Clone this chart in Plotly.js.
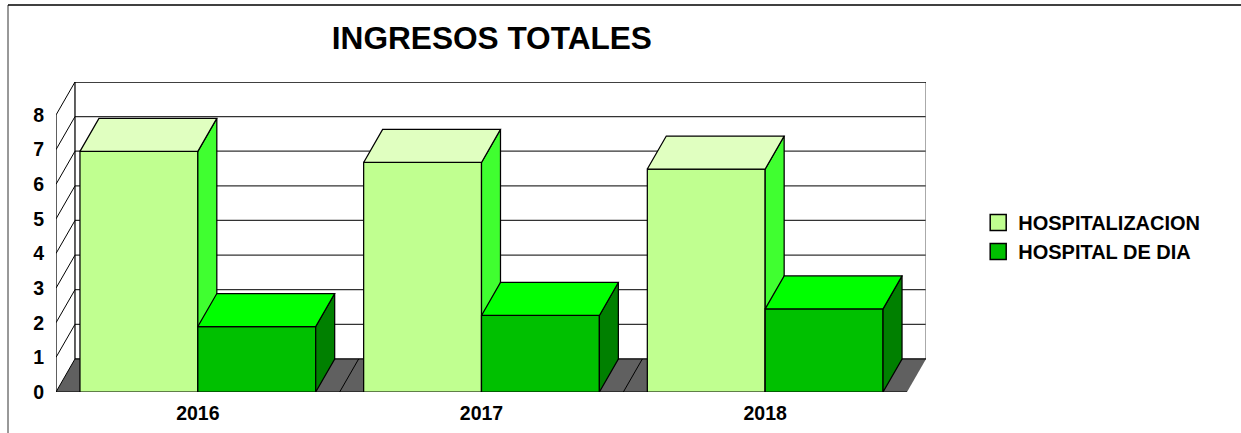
<!DOCTYPE html>
<html>
<head>
<meta charset="utf-8">
<script src="https://cdn.plot.ly/plotly-3.0.1.min.js"></script>
<style>html,body{margin:0;padding:0;background:#fff;overflow:hidden}#chart{width:1241px;height:433px}</style>
</head>
<body>
<div id="chart"></div>
<script>
const years = [2016, 2017, 2018];
const hospitalizacion = [6.95, 6.63, 6.44];
const hospitalDeDia = [1.89, 2.21, 2.40];
const yTicks = [0, 1, 2, 3, 4, 5, 6, 7, 8];
const seriesNames = ['HOSPITALIZACION', 'HOSPITAL DE DIA'];
const boundaries = [2016.5, 2017.5];

const FONT = '"Liberation Sans", Arial, sans-serif';
const BLACK = '#000000';
const LW = 1.25;
const X0 = 2015.5, X1 = 2018.5;
const DX = 19 / 284, DY = 33 / 34.6;   // oblique depth of the 3-D view, in axis units
const W = 118 / 284;                   // bar width
const YTOP = 8 + DY;
const xr = [X0, X1 + DX], yr = [0, YTOP];

function face(pts) {
  const x = [], y = [];
  pts.forEach(p => { p.forEach(q => { x.push(q[0]); y.push(q[1]); }); x.push(p[0][0]); y.push(p[0][1]); x.push(null); y.push(null); });
  return {x, y};
}
function poly(pts, fill, xa, ya, lw) {
  const f = face(pts);
  return {type: 'scatter', mode: 'lines', x: f.x, y: f.y, xaxis: xa, yaxis: ya, fill: 'toself', fillcolor: fill,
    line: {color: BLACK, width: lw === undefined ? LW : lw}, hoverinfo: 'skip', showlegend: false, cliponaxis: false};
}
function lines(segs, color, width) {
  const x = [], y = [];
  segs.forEach(s => { x.push(s[0], s[2], null); y.push(s[1], s[3], null); });
  return {type: 'scatter', mode: 'lines', x, y, xaxis: 'x', yaxis: 'y', line: {color, width}, hoverinfo: 'skip', showlegend: false, cliponaxis: false};
}
function series(vals, off, colors, xa, ya) {
  const bar = {type: 'bar', x: years, y: vals, width: W, offset: off, xaxis: xa, yaxis: ya,
    marker: {color: colors[0], line: {color: BLACK, width: LW}}, showlegend: false, cliponaxis: false, hoverinfo: 'skip'};
  const tops = years.map((yr, i) => { const a = yr + off, b = a + W, v = vals[i];
    return [[a, v], [b, v], [b + DX, v + DY], [a + DX, v + DY]]; });
  const sides = years.map((yr, i) => { const b = yr + off + W, v = vals[i];
    return [[b, 0], [b, v], [b + DX, v + DY], [b + DX, DY]]; });
  return [bar, poly(sides, colors[2], xa, ya), poly(tops, colors[1], xa, ya)];
}

const LIGHT = ['#C0FF90', '#E0FFC0', '#40FF30'];
const DARK = ['#00C000', '#00FF00', '#008000'];

const data = [];
data.push(poly([[[X0, 0], [X1, 0], [X1 + DX, DY], [X0 + DX, DY]]], '#606060', 'x', 'y', 0));
const grid = yTicks.slice(1, -1).map(n => [X0 + DX, n + DY, X1 + DX, n + DY]);
const walls = yTicks.map(n => [X0, n, X0 + DX, n + DY]);
data.push(lines(grid, '#333333', LW));
data.push(lines(walls, BLACK, 1));
data.push(lines([[X1 + DX, DY, X1 + DX, YTOP]], '#777777', LW));
data.push(lines([[X0, 0, X0, 8], [X0 + DX, DY, X0 + DX, YTOP], [X0 + DX, YTOP, X1 + DX, YTOP], [X0 + DX, DY, X1 + DX, DY], [X0, 0, X1, 0]], BLACK, LW));
data.push(lines(boundaries.map(b => [b, 0, b + DX, DY]), BLACK, 1));
series(hospitalizacion, -W, LIGHT, 'x2', 'y2').forEach(t => data.push(t));
series(hospitalDeDia, 0, DARK, 'x3', 'y3').forEach(t => data.push(t));
[LIGHT[0], DARK[0]].forEach((c, i) => data.push({type: 'scatter', mode: 'markers', x: [null], y: [null], name: seriesNames[i],
  legendgroup: seriesNames[i], marker: {symbol: 'square', size: 16, color: c, line: {color: BLACK, width: 1.5}}, hoverinfo: 'skip'}));

const hidden = over => ({range: xr, overlaying: over, visible: false, fixedrange: true});
const layout = {
  width: 1241, height: 433,
  margin: {l: 56, r: 315, t: 82, b: 41, pad: 0},
  paper_bgcolor: '#ffffff', plot_bgcolor: 'rgba(0,0,0,0)',
  font: {family: FONT, color: BLACK},
  title: {text: 'INGRESOS TOTALES', x: 0.501, xref: 'paper', xanchor: 'center', y: 0.912, yref: 'container', yanchor: 'middle',
    font: {family: FONT, size: 31.6, weight: 700, color: BLACK}},
  xaxis: {range: xr, type: 'linear', tickvals: years, ticktext: years.map(String), showgrid: false, zeroline: false, showline: false,
    ticks: '', ticklabelstandoff: 7, tickfont: {family: FONT, size: 19.5, weight: 700, color: BLACK}, fixedrange: true},
  yaxis: {range: yr, type: 'linear', tickvals: yTicks, showgrid: false, zeroline: false, showline: false,
    ticks: '', ticklabelstandoff: 11, tickfont: {family: FONT, size: 19.5, weight: 700, color: BLACK}, fixedrange: true},
  xaxis2: hidden('x'), xaxis3: hidden('x'),
  yaxis2: Object.assign(hidden('y'), {range: yr}), yaxis3: Object.assign(hidden('y'), {range: yr}),
  showlegend: true,
  legend: {x: 1.06, xanchor: 'left', y: 0.5, yanchor: 'middle', traceorder: 'normal', tracegroupgap: 0,
    font: {family: FONT, size: 20, weight: 700, color: BLACK}, bgcolor: 'rgba(0,0,0,0)', borderwidth: 0},
  shapes: [
    {type: 'line', xref: 'paper', yref: 'paper', x0: -48 / 870, x1: -48 / 870, y0: -41 / 310, y1: 1 + 77 / 310, line: {color: '#333333', width: 1}},
    {type: 'line', xref: 'paper', yref: 'paper', x0: -48 / 870, x1: 1185 / 870, y0: 1 + 77 / 310, y1: 1 + 77 / 310, line: {color: BLACK, width: 1.5}}
  ]
};
Plotly.newPlot('chart', data, layout, {displayModeBar: false, staticPlot: true});
</script>
</body>
</html>
